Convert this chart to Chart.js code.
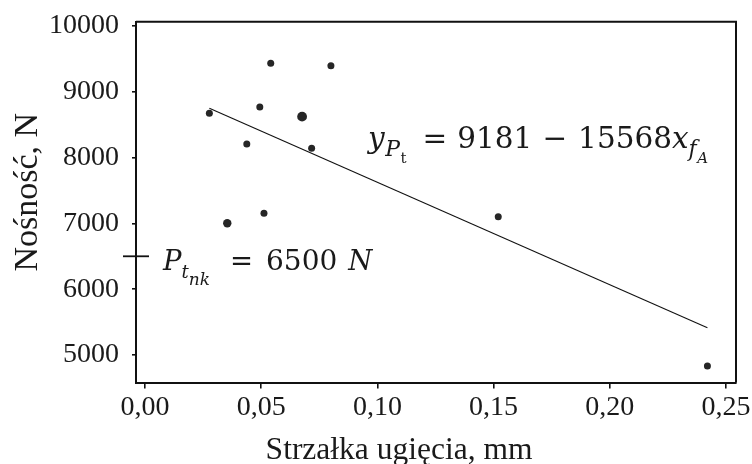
<!DOCTYPE html>
<html>
<head>
<meta charset="utf-8">
<script src="https://cdn.jsdelivr.net/npm/chart.js@4/dist/chart.umd.min.js"></script>
<style>
  html, body { margin: 0; padding: 0; background: #fff; overflow: hidden; }
  canvas { display: block; }
</style>
</head>
<body>
<canvas id="chart" width="752" height="464"></canvas>
<script>
// Measured deflection (mm) and load capacity (N)
const deflection = [0.0277, 0.0541, 0.0800, 0.0494, 0.0676, 0.0438, 0.0717, 0.0354, 0.0512, 0.1520, 0.2420];
const capacity   = [8673, 9433, 9397, 8769, 8622, 8207, 8141, 7002, 7153, 7102, 4833];

// Regression y = 9181 - 15568 x, drawn over the measured range
const fitIntercept = 9181;
const fitSlope = -15568;
const fitRange = [0.0277, 0.2420];

// Required capacity level
const capacityLimit = 6500;

const xTicks = [0, 0.05, 0.10, 0.15, 0.20, 0.25];
const yTicks = [5000, 6000, 7000, 8000, 9000, 10000];
const xTitle = 'Strzałka ugięcia, mm';
const yTitle = 'Nośność, N';

const X_MIN = -0.00387, X_MAX = 0.2543;
const Y_MIN = 4582, Y_MAX = 10065;
const INK = '#1a1a1a';
const SERIF = '"Liberation Serif", "Times New Roman", serif';
const MATH = '"DejaVu Serif", serif';

// Draws a sequence of text runs (with subscripts) from a starting point
function drawRuns(ctx, x0, y0, runs) {
  let x = x0;
  ctx.save();
  ctx.fillStyle = INK;
  ctx.textBaseline = 'alphabetic';
  ctx.textAlign = 'left';
  for (const r of runs) {
    x += r.gap || 0;
    ctx.font = (r.it ? 'italic ' : '') + r.s + 'px ' + MATH;
    ctx.fillText(r.t, x, y0 + (r.dy || 0));
    x += ctx.measureText(r.t).width;
  }
  ctx.restore();
}

const annotations = {
  id: 'annotations',
  afterDatasetsDraw(chart) {
    const { ctx, scales: { x, y }, chartArea: a } = chart;

    // frame: top and right edges
    ctx.save();
    ctx.strokeStyle = '#111';
    ctx.lineWidth = 2;
    ctx.beginPath();
    ctx.moveTo(a.left, a.top);
    ctx.lineTo(a.right, a.top);
    ctx.lineTo(a.right, a.bottom);
    ctx.stroke();
    ctx.restore();

    // regression equation
    drawRuns(ctx, x.getPixelForValue(0.0960), y.getPixelForValue(8146), [
      { t: 'y', it: true, s: 29.5 },
      { t: 'P', it: true, s: 22, dy: 8.5, gap: 0.5 },
      { t: 't', s: 15, dy: 15, gap: 0.5 },
      { t: '=', s: 29.5, gap: 16 },
      { t: '9181', s: 29.5, gap: 10 },
      { t: '\u2212', s: 29.5, gap: 10 },
      { t: '15568', s: 29.5, gap: 11 },
      { t: 'x', it: true, s: 29.5 },
      { t: 'f', it: true, s: 22, dy: 8 },
      { t: 'A', it: true, s: 15, dy: 15, gap: 0.5 }
    ]);

    // capacity limit label
    drawRuns(ctx, x.getPixelForValue(0.00775), y.getPixelForValue(6292), [
      { t: 'P', it: true, s: 27.5 },
      { t: 't', it: true, s: 18, dy: 8 },
      { t: 'nk', it: true, s: 17, dy: 15 },
      { t: '=', s: 27.5, gap: 20 },
      { t: '6500', s: 28, gap: 13 },
      { t: 'N', it: true, s: 27.5, gap: 11 }
    ]);
  },
  afterDraw(chart) {
    const { ctx } = chart;
    ctx.save();
    ctx.fillStyle = INK;
    ctx.textBaseline = 'alphabetic';
    ctx.textAlign = 'center';

    // horizontal axis title
    ctx.font = '31.5px ' + SERIF;
    ctx.fillText(xTitle, 399, 459);

    // vertical axis title
    ctx.translate(36.7, 192.2);
    ctx.rotate(-Math.PI / 2);
    ctx.font = '34px ' + SERIF;
    ctx.fillText(yTitle, 0, 0);
    ctx.restore();
  }
};

const points = deflection.map((v, i) => ({ x: v, y: capacity[i] }));
const fitLine = fitRange.map(v => ({ x: v, y: fitIntercept + fitSlope * v }));

new Chart(document.getElementById('chart'), {
  type: 'scatter',
  data: {
    datasets: [
      {
        label: 'Pomiary',
        data: points,
        backgroundColor: '#262626',
        borderWidth: 0,
        pointRadius: [3.5, 3.5, 3.5, 3.5, 4.9, 3.5, 3.5, 4.2, 3.5, 3.5, 3.5]
      },
      {
        label: 'Regresja',
        type: 'line',
        data: fitLine,
        borderColor: '#111',
        borderWidth: 1.1,
        pointRadius: 0,
        fill: false
      },
      {
        label: 'Ptnk',
        data: [{ x: X_MIN, y: capacityLimit }],
        pointStyle: 'line',
        pointRadius: 13,
        borderColor: '#111',
        borderWidth: 1.8,
        clip: false
      }
    ]
  },
  options: {
    responsive: false,
    devicePixelRatio: 1,
    animation: false,
    events: [],
    layout: { padding: { top: 21.7, right: 16, left: 0, bottom: 0 } },
    plugins: { legend: { display: false }, tooltip: { enabled: false } },
    scales: {
      x: {
        type: 'linear',
        position: 'bottom',
        min: X_MIN,
        max: X_MAX,
        afterBuildTicks: s => { s.ticks = xTicks.map(v => ({ value: v })); },
        afterFit: s => { s.height = 81.5; s.paddingLeft = 0; s.paddingRight = 0; },
        ticks: {
          callback: v => v.toFixed(2).replace('.', ','),
          font: { family: SERIF, size: 28 },
          color: INK,
          padding: 2.5,
          maxRotation: 0,
          autoSkip: false
        },
        grid: { drawOnChartArea: false, tickLength: 6, color: '#111', lineWidth: 1.6 },
        border: { color: '#111', width: 2 },
        title: { display: false }
      },
      y: {
        type: 'linear',
        position: 'left',
        min: Y_MIN,
        max: Y_MAX,
        afterBuildTicks: s => { s.ticks = yTicks.map(v => ({ value: v })); },
        afterFit: s => { s.width = 136; s.paddingTop = 0; s.paddingBottom = 0; },
        ticks: {
          callback: v => String(v),
          font: { family: SERIF, size: 28 },
          color: INK,
          padding: 13,
          autoSkip: false
        },
        grid: { drawOnChartArea: false, tickLength: 4, color: '#111', lineWidth: 1.6 },
        border: { color: '#111', width: 2 },
        title: { display: false }
      }
    }
  },
  plugins: [annotations]
});
</script>
</body>
</html>
